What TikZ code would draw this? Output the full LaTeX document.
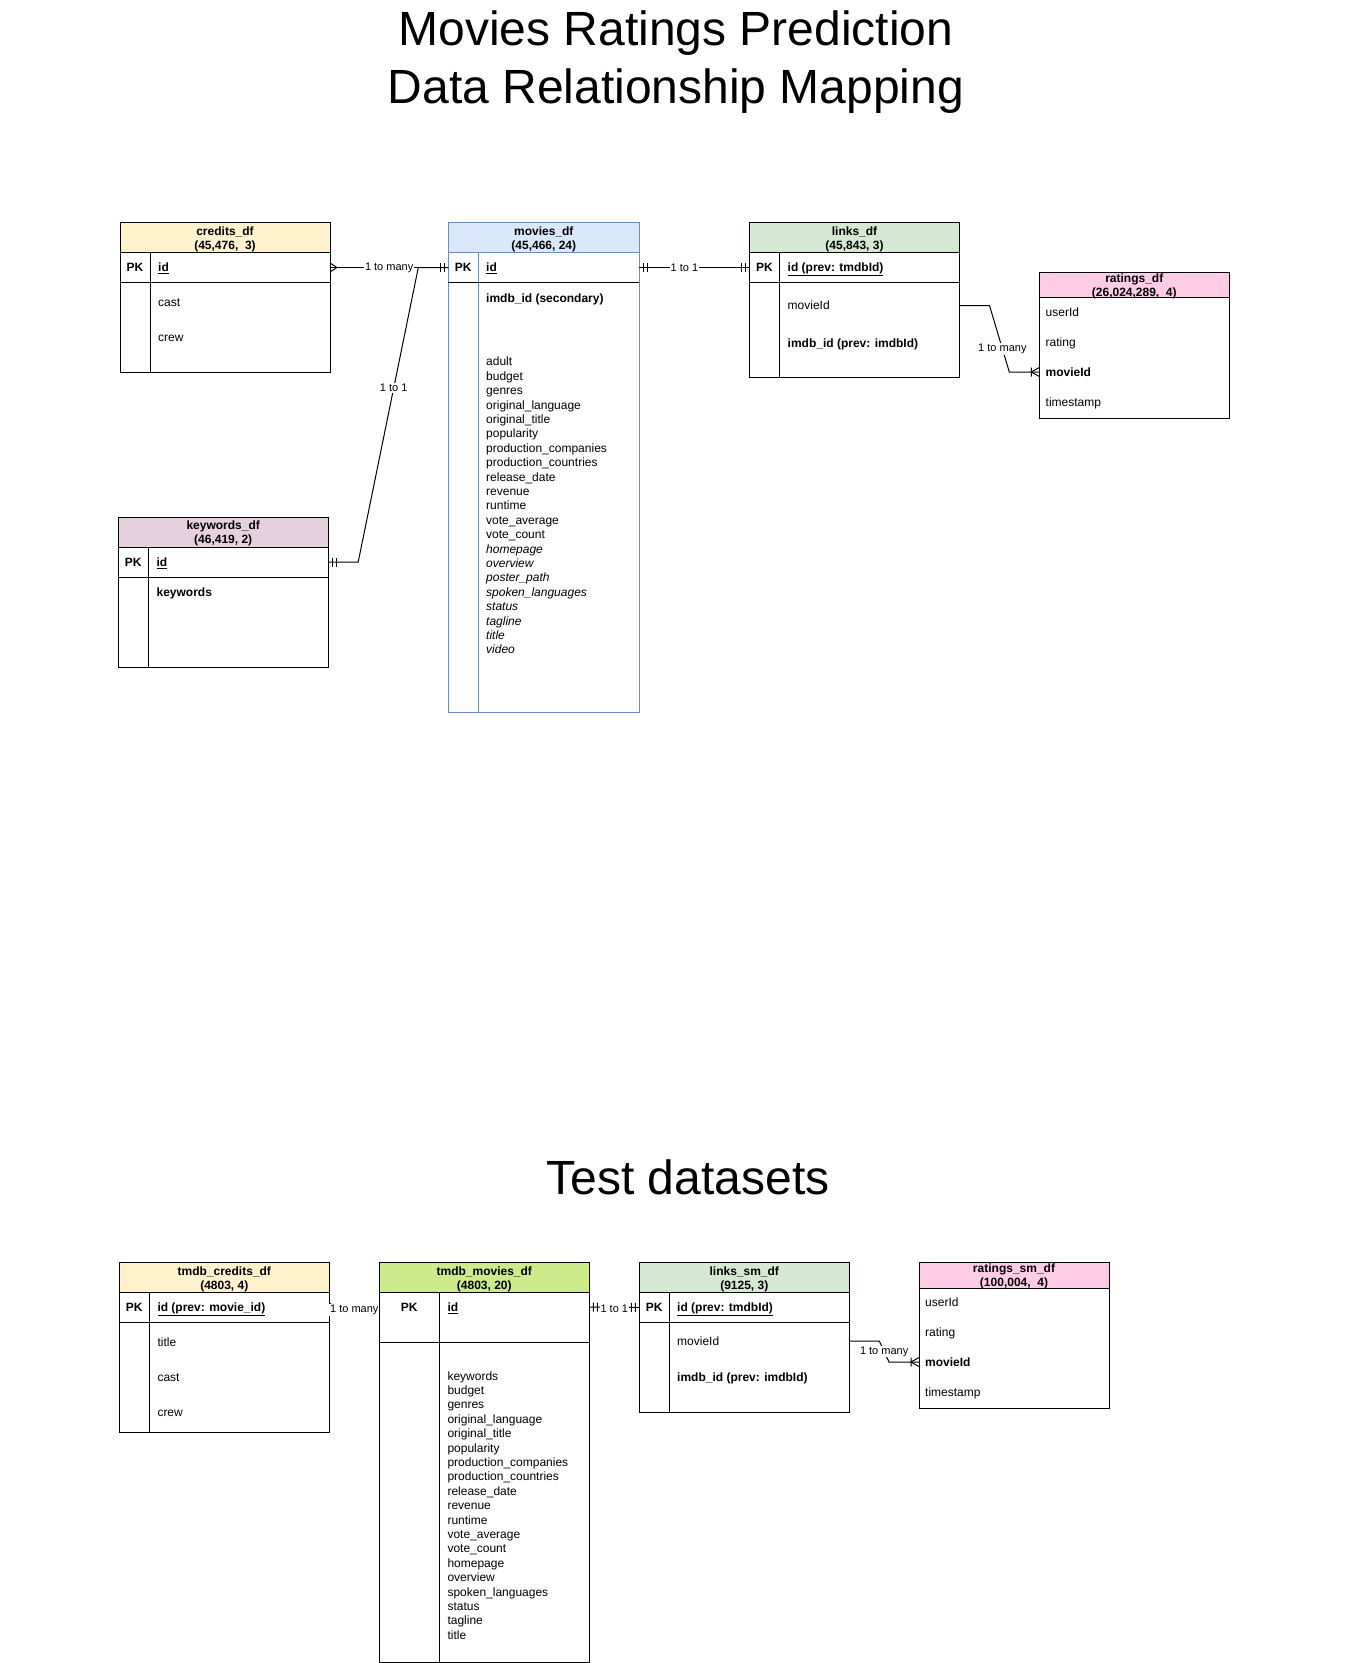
\documentclass[tikz,border=0pt]{standalone}
\usepackage{fontspec}
\setmainfont{Liberation Sans}
\usepackage{xcolor}
\usepackage{tikz}
\usetikzlibrary{calc,decorations.markings}
\definecolor{credyellow}{HTML}{FFF2CC}
\definecolor{movblue}{HTML}{DAE8FC}
\definecolor{movedge}{HTML}{6C8EBF}
\definecolor{linkgreen}{HTML}{D5E8D4}
\definecolor{ratpink}{HTML}{FFCCE6}
\definecolor{kwpurple}{HTML}{E6D0DE}
\definecolor{tmdbgreen}{HTML}{CDEB8B}
\newcommand{\hdrstrut}{\rule{0pt}{12pt}}
\tikzset{
	tbl/.style={draw, line width=1pt, inner sep=0pt, outer sep=0pt, anchor=north west},
	hdr/.style={tbl, align=center, font=\fontsize{12}{14.4}\selectfont\bfseries},
	hdrtext/.style={inner sep=0pt, align=center, font=\fontsize{12}{14.4}\selectfont\bfseries},
	pk/.style={inner sep=0pt, font=\fontsize{12}{14.4}\selectfont\bfseries, text height=11pt, text depth=2.5pt},
	attr/.style={anchor=west, inner sep=0pt, font=\fontsize{12}{14.4}\selectfont, text height=11pt, text depth=2.5pt},
	bold attr/.style={attr, font=\fontsize{12}{14.4}\selectfont\bfseries},
	attrlist/.style={anchor=west, inner sep=0pt, align=left, font=\fontsize{12}{14.4}\selectfont},
	rel/.style={line width=1pt},
	rellabel/.style={fill=white, inner sep=1pt, font=\fontsize{11}{13.2}\selectfont},
	two bars start/.style={postaction={decorate, decoration={markings,
					mark=at position 4pt with {\draw[line width=1pt] (0,-4.5pt) -- (0,4.5pt);},
					mark=at position 8pt with {\draw[line width=1pt] (0,-4.5pt) -- (0,4.5pt);}}}},
	two bars end/.style={postaction={decorate, decoration={markings,
					mark=at position -4pt with {\draw[line width=1pt] (0,-4.5pt) -- (0,4.5pt);},
					mark=at position -8pt with {\draw[line width=1pt] (0,-4.5pt) -- (0,4.5pt);}}}},
	crow start/.style={postaction={decorate, decoration={markings,
					mark=at position 7pt with {\draw[line width=1pt] (-7pt,4.5pt) -- (0,0) -- (-7pt,-4.5pt);}}}},
	crow bar end/.style={postaction={decorate, decoration={markings,
					mark=at position -8pt with {\draw[line width=1pt] (0,-4.5pt) -- (0,4.5pt) (8pt,4.5pt) -- (0,0) -- (8pt,-4.5pt);}}}}
}

\begin{document}
\begin{tikzpicture}[x=1pt,y=-1pt]
	\useasboundingbox (0,0) rectangle (1370,1663);
	\node[font=\fontsize{48}{57.6}\selectfont, align=center, inner sep=0pt] (title) at (676,62.3) {Movies Ratings Prediction\\Data Relationship Mapping};
	\node[font=\fontsize{48}{57.6}\selectfont, anchor=base, inner sep=0pt] (testtitle) at (688,1194) {Test datasets};

	\node[hdr, fill=credyellow, minimum width=210pt, minimum height=30pt] (credits) at (120,222.5) {\hdrstrut credits\_df\\(45,476,\ \ 3)};
	\node[tbl, minimum width=210pt, minimum height=30pt] (credits-key) at (credits.south west) {};
	\node[tbl, minimum width=210pt, minimum height=89.5pt] (credits-body) at (credits-key.south west) {};
	\draw[line width=1pt] ($(credits-key.north west)+(30,0)$) -- ($(credits-body.south west)+(30,0)$);
	\node[pk] (credits-pk) at (135,267.5) {PK};
	\node[bold attr] (credits-id) at (158,267.5) {\underline{id}};
	\node[attr] (credits-cast) at (158,302) {cast};
	\node[attr] (credits-crew) at (158,337) {crew};

	\node[hdr, fill=movblue, draw=movedge, minimum width=191pt, minimum height=30pt] (movies) at (448.3,222.5) {\hdrstrut movies\_df\\(45,466, 24)};
	\node[tbl, draw=movedge, minimum width=191pt, minimum height=30pt] (movies-key) at (movies.south west) {};
	\node[tbl, draw=movedge, minimum width=191pt, minimum height=429.5pt] (movies-body) at (movies-key.south west) {};
	\draw[line width=1pt, movedge] ($(movies-key.north west)+(30,0)$) -- ($(movies-body.south west)+(30,0)$);
	\draw[line width=1pt] (movies-key.south west) -- (movies-key.south east);
	\node[pk] (movies-pk) at (463.3,267.5) {PK};
	\node[bold attr] (movies-id) at (486,267.5) {\underline{id}};
	\node[bold attr] (movies-imdb) at (486,298) {imdb\_id (secondary)};
	\node[attrlist] (movies-attrs) at (486,505.7) {adult\\budget\\genres\\original\_language\\original\_title\\popularity\\production\_companies\\production\_countries\\release\_date\\revenue\\runtime\\vote\_average\\vote\_count\\\textit{homepage}\\\textit{overview}\\\textit{poster\_path}\\\textit{spoken\_languages}\\\textit{status}\\\textit{tagline}\\\textit{title}\\\textit{video}};

	\node[hdr, fill=linkgreen, minimum width=210pt, minimum height=30pt] (links) at (749.5,222.5) {\hdrstrut links\_df\\(45,843, 3)};
	\node[tbl, minimum width=210pt, minimum height=30pt] (links-key) at (links.south west) {};
	\node[tbl, minimum width=210pt, minimum height=94.5pt] (links-body) at (links-key.south west) {};
	\draw[line width=1pt] ($(links-key.north west)+(30,0)$) -- ($(links-body.south west)+(30,0)$);
	\node[pk] (links-pk) at (764.5,267.5) {PK};
	\node[bold attr] (links-id) at (787.5,267.5) {\underline{id (prev: tmdbId)}};
	\node[attr] (links-movieid) at (787.5,305.5) {movieId};
	\node[bold attr] (links-imdb) at (787.5,343) {imdb\_id (prev: imdbId)};

	\node[hdr, fill=ratpink, minimum width=190pt, minimum height=25pt] (ratings) at (1039.3,272.5) {};
	\node[hdrtext] (ratings-title) at ($(ratings.center)+(0,1.6)$) {ratings\_df\\(26,024,289,\ \ 4)};
	\node[tbl, minimum width=190pt, minimum height=120.5pt] (ratings-body) at (ratings.south west) {};
	\node[attr] (ratings-user) at (1045.5,312) {userId};
	\node[attr] (ratings-rating) at (1045.5,342) {rating};
	\node[bold attr] (ratings-movieid) at (1045.5,372) {movieId};
	\node[attr] (ratings-time) at (1045.5,402) {timestamp};

	\node[hdr, fill=kwpurple, minimum width=210pt, minimum height=30pt] (keywords) at (118.2,517) {\hdrstrut keywords\_df\\(46,419, 2)};
	\node[tbl, minimum width=210pt, minimum height=30pt] (keywords-key) at (keywords.south west) {};
	\node[tbl, minimum width=210pt, minimum height=90pt] (keywords-body) at (keywords-key.south west) {};
	\draw[line width=1pt] ($(keywords-key.north west)+(30,0)$) -- ($(keywords-body.south west)+(30,0)$);
	\node[pk] (keywords-pk) at (133.2,562) {PK};
	\node[bold attr] (keywords-id) at (156.4,562) {\underline{id}};
	\node[bold attr] (keywords-kw) at (156.4,592) {keywords};

	\node[hdr, fill=credyellow, minimum width=210pt, minimum height=30pt] (tcredits) at (119.3,1262.5) {\hdrstrut tmdb\_credits\_df\\(4803, 4)};
	\node[tbl, minimum width=210pt, minimum height=30pt] (tcredits-key) at (tcredits.south west) {};
	\node[tbl, minimum width=210pt, minimum height=109.8pt] (tcredits-body) at (tcredits-key.south west) {};
	\draw[line width=1pt] ($(tcredits-key.north west)+(30,0)$) -- ($(tcredits-body.south west)+(30,0)$);
	\node[pk] (tcredits-pk) at (134.3,1307.5) {PK};
	\node[bold attr] (tcredits-id) at (157.3,1307.5) {\underline{id (prev: movie\_id)}};
	\node[attr] (tcredits-title) at (157.3,1342) {title};
	\node[attr] (tcredits-cast) at (157.3,1377) {cast};
	\node[attr] (tcredits-crew) at (157.3,1412) {crew};

	\node[hdr, fill=tmdbgreen, minimum width=210pt, minimum height=30pt] (tmovies) at (379.3,1262.5) {\hdrstrut tmdb\_movies\_df\\(4803, 20)};
	\node[tbl, minimum width=210pt, minimum height=50pt] (tmovies-key) at (tmovies.south west) {};
	\node[tbl, minimum width=210pt, minimum height=319.5pt] (tmovies-body) at (tmovies-key.south west) {};
	\draw[line width=1pt] ($(tmovies-key.north west)+(60,0)$) -- ($(tmovies-body.south west)+(60,0)$);
	\node[pk] (tmovies-pk) at (409.3,1307) {PK};
	\node[bold attr] (tmovies-id) at (447.3,1307) {\underline{id}};
	\node[attrlist] (tmovies-attrs) at (447.3,1505.4) {keywords\\budget\\genres\\original\_language\\original\_title\\popularity\\production\_companies\\production\_countries\\release\_date\\revenue\\runtime\\vote\_average\\vote\_count\\homepage\\overview\\spoken\_languages\\status\\tagline\\title};

	\node[hdr, fill=linkgreen, minimum width=210pt, minimum height=30pt] (lsm) at (639.3,1262.5) {\hdrstrut links\_sm\_df\\(9125, 3)};
	\node[tbl, minimum width=210pt, minimum height=30pt] (lsm-key) at (lsm.south west) {};
	\node[tbl, minimum width=210pt, minimum height=89.8pt] (lsm-body) at (lsm-key.south west) {};
	\draw[line width=1pt] ($(lsm-key.north west)+(30,0)$) -- ($(lsm-body.south west)+(30,0)$);
	\node[pk] (lsm-pk) at (654.3,1307.5) {PK};
	\node[bold attr] (lsm-id) at (677,1307.5) {\underline{id (prev: tmdbId)}};
	\node[attr] (lsm-movieid) at (677,1341) {movieId};
	\node[bold attr] (lsm-imdb) at (677,1377) {imdb\_id (prev: imdbId)};

	\node[hdr, fill=ratpink, minimum width=190pt, minimum height=25.5pt] (rsm) at (919,1262.5) {};
	\node[hdrtext] (rsm-title) at ($(rsm.center)+(0,1.4)$) {ratings\_sm\_df\\(100,004,\ \ 4)};
	\node[tbl, minimum width=190pt, minimum height=120pt] (rsm-body) at (rsm.south west) {};
	\node[attr] (rsm-user) at (925,1302) {userId};
	\node[attr] (rsm-rating) at (925,1332) {rating};
	\node[bold attr] (rsm-movieid) at (925,1362) {movieId};
	\node[attr] (rsm-time) at (925,1392) {timestamp};

	\draw[rel, crow start, two bars end] (credits-key.east) -- node[rellabel] {1 to many} (movies-key.west);
	\draw[rel, two bars start] (keywords-key.east) -- ++(30,0) -- node[rellabel, pos=0.59] {1 to 1} ($(movies-key.west)+(-30,0)$) -- (movies-key.west);
	\draw[rel, two bars start, two bars end] (movies-key.east) -- node[rellabel, pos=0.41] {1 to 1} (links-key.west);
	\draw[rel, crow bar end] (links-body.east |- links-movieid) -- ++(30,0) -- node[rellabel, pos=0.65] {1 to many} ($(ratings-body.west |- ratings-movieid)+(-30,0)$) -- (ratings-body.west |- ratings-movieid);
	\draw[rel, crow start] (tcredits-key.east) -- node[rellabel, yshift=-3pt] {1 to many} (tmovies-key.west |- tmovies-id);
	\draw[rel, two bars start, two bars end] (tmovies-key.east |- tmovies-id) -- node[rellabel, yshift=-2pt] {1 to 1} (lsm-key.west);
	\draw[rel, crow bar end] (lsm-body.east |- lsm-movieid) -- ++(30,0) -- node[rellabel] {1 to many} ($(rsm-body.west |- rsm-movieid)+(-30,0)$) -- (rsm-body.west |- rsm-movieid);
\end{tikzpicture}
\end{document}
